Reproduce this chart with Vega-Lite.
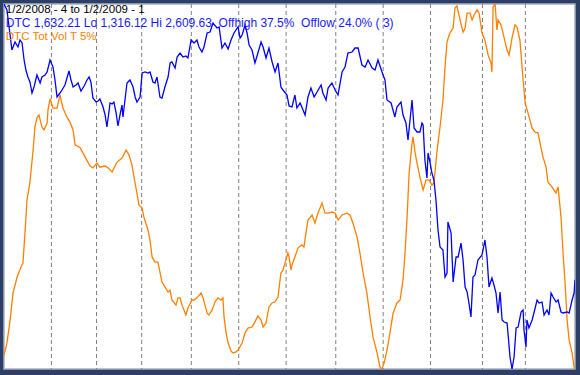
{
  "$schema": "https://vega.github.io/schema/vega-lite/v6.json",
  "width": 571,
  "height": 365,
  "autosize": {"type": "none"},
  "padding": {"left": 4, "top": 4, "right": 5, "bottom": 6},
  "background": "#2d3f66",
  "config": {"view": {"fill": "#ffffff", "stroke": "#a8b0c0", "strokeWidth": 1.5}},
  "datasets": {
    "months": [{"d": 21}, {"d": 41}, {"d": 61}, {"d": 83}, {"d": 104}, {"d": 125}, {"d": 147}, {"d": 168}, {"d": 189}, {"d": 212}, {"d": 231}],
    "labels": [
      {"line": 1, "series": "title", "label": "1/2/2008 - 4 to 1/2/2009 - 1"},
      {"line": 2, "series": "dtc", "label": "DTC 1,632.21 Lo 1,316.12 Hi 2,609.63\u00a0 Offhigh 37.5%\u00a0 Offlow 24.0% ( 3)"},
      {"line": 3, "series": "vol", "label": "DTC Tot Vol T 5%"}
    ],
    "dtc": [
      {"d": 0, "v": 2609.6}, {"d": 1.3, "v": 2588.4}, {"d": 2.7, "v": 2499.8}, {"d": 3.5, "v": 2446.6}, {"d": 4.9, "v": 2475.0}, {"d": 6.2, "v": 2457.3}, {"d": 7.1, "v": 2482.1}, {"d": 8.0, "v": 2471.4}, {"d": 8.9, "v": 2411.2}, {"d": 9.7, "v": 2375.8},
      {"d": 10.6, "v": 2350.9}, {"d": 11.5, "v": 2333.2}, {"d": 12.4, "v": 2294.2}, {"d": 13.3, "v": 2315.5}, {"d": 14.6, "v": 2358.0}, {"d": 16.0, "v": 2329.7}, {"d": 16.8, "v": 2350.9}, {"d": 18.2, "v": 2358.0}, {"d": 19.1, "v": 2368.7}, {"d": 20.4, "v": 2411.2},
      {"d": 21.7, "v": 2386.4}, {"d": 22.6, "v": 2340.3}, {"d": 23.5, "v": 2280.1}, {"d": 24.8, "v": 2294.2}, {"d": 25.7, "v": 2304.9}, {"d": 27.0, "v": 2322.6}, {"d": 27.9, "v": 2347.4}, {"d": 28.8, "v": 2372.2}, {"d": 29.7, "v": 2340.3}, {"d": 30.6, "v": 2315.5},
      {"d": 31.9, "v": 2322.6}, {"d": 32.8, "v": 2329.7}, {"d": 34.1, "v": 2301.3}, {"d": 35.5, "v": 2319.1}, {"d": 36.8, "v": 2340.3}, {"d": 37.7, "v": 2350.9}, {"d": 38.5, "v": 2333.2}, {"d": 39.4, "v": 2276.5}, {"d": 40.8, "v": 2262.3}, {"d": 41.7, "v": 2265.9},
      {"d": 42.5, "v": 2273.0}, {"d": 43.9, "v": 2244.6}, {"d": 44.8, "v": 2216.3}, {"d": 45.6, "v": 2173.7}, {"d": 46.5, "v": 2226.9}, {"d": 47.0, "v": 2258.8}, {"d": 47.9, "v": 2255.3}, {"d": 48.7, "v": 2262.3}, {"d": 49.6, "v": 2226.9}, {"d": 50.5, "v": 2177.3},
      {"d": 51.4, "v": 2216.3}, {"d": 52.3, "v": 2251.7}, {"d": 52.7, "v": 2209.2}, {"d": 53.6, "v": 2269.4}, {"d": 54.5, "v": 2329.7}, {"d": 55.8, "v": 2340.3}, {"d": 57.2, "v": 2315.5}, {"d": 58.1, "v": 2280.1}, {"d": 58.9, "v": 2262.3}, {"d": 60.3, "v": 2280.1},
      {"d": 61.2, "v": 2365.1}, {"d": 62.5, "v": 2368.7}, {"d": 63.8, "v": 2365.1}, {"d": 64.7, "v": 2368.7}, {"d": 66.0, "v": 2333.2}, {"d": 66.9, "v": 2329.7}, {"d": 67.8, "v": 2350.9}, {"d": 69.1, "v": 2280.1}, {"d": 70.0, "v": 2276.5}, {"d": 71.3, "v": 2315.5},
      {"d": 72.7, "v": 2350.9}, {"d": 73.6, "v": 2400.6}, {"d": 74.4, "v": 2404.1}, {"d": 75.8, "v": 2382.8}, {"d": 76.7, "v": 2421.8}, {"d": 78.0, "v": 2436.0}, {"d": 79.3, "v": 2421.8}, {"d": 80.6, "v": 2425.4}, {"d": 81.5, "v": 2418.3}, {"d": 82.9, "v": 2482.1},
      {"d": 84.2, "v": 2471.4}, {"d": 85.5, "v": 2482.1}, {"d": 86.4, "v": 2457.3}, {"d": 87.7, "v": 2439.5}, {"d": 88.6, "v": 2457.3}, {"d": 90.0, "v": 2506.9}, {"d": 91.3, "v": 2510.4}, {"d": 92.6, "v": 2542.3}, {"d": 94.4, "v": 2524.6}, {"d": 95.3, "v": 2528.1},
      {"d": 96.6, "v": 2453.7}, {"d": 97.9, "v": 2471.4}, {"d": 99.3, "v": 2450.2}, {"d": 100.6, "v": 2482.1}, {"d": 101.9, "v": 2506.9}, {"d": 103.7, "v": 2528.1}, {"d": 104.6, "v": 2489.2}, {"d": 105.5, "v": 2499.8}, {"d": 106.8, "v": 2535.2}, {"d": 107.7, "v": 2506.9},
      {"d": 108.6, "v": 2464.4}, {"d": 109.9, "v": 2446.6}, {"d": 111.2, "v": 2400.6}, {"d": 112.5, "v": 2436.0}, {"d": 113.9, "v": 2475.0}, {"d": 114.8, "v": 2457.3}, {"d": 116.1, "v": 2418.3}, {"d": 117.4, "v": 2453.7}, {"d": 118.8, "v": 2404.1}, {"d": 120.1, "v": 2368.7},
      {"d": 121.4, "v": 2400.6}, {"d": 122.7, "v": 2315.5}, {"d": 123.6, "v": 2304.9}, {"d": 125.4, "v": 2287.2}, {"d": 126.3, "v": 2248.2}, {"d": 127.6, "v": 2244.6}, {"d": 128.9, "v": 2287.2}, {"d": 129.8, "v": 2241.1}, {"d": 131.2, "v": 2258.8}, {"d": 132.5, "v": 2234.0},
      {"d": 133.4, "v": 2216.3}, {"d": 134.7, "v": 2280.1}, {"d": 136.0, "v": 2312.0}, {"d": 137.4, "v": 2280.1}, {"d": 138.7, "v": 2297.8}, {"d": 140.5, "v": 2322.6}, {"d": 141.3, "v": 2294.2}, {"d": 142.7, "v": 2269.4}, {"d": 143.6, "v": 2312.0}, {"d": 145.3, "v": 2329.7},
      {"d": 146.7, "v": 2304.9}, {"d": 148.0, "v": 2287.2}, {"d": 149.8, "v": 2368.7}, {"d": 151.1, "v": 2386.4}, {"d": 152.4, "v": 2436.0}, {"d": 154.2, "v": 2439.5}, {"d": 155.5, "v": 2453.7}, {"d": 156.9, "v": 2453.7}, {"d": 158.6, "v": 2393.5}, {"d": 160.0, "v": 2386.4},
      {"d": 161.3, "v": 2411.2}, {"d": 163.1, "v": 2382.8}, {"d": 164.4, "v": 2375.8}, {"d": 165.7, "v": 2411.2}, {"d": 167.5, "v": 2368.7}, {"d": 168.8, "v": 2340.3}, {"d": 169.7, "v": 2269.4}, {"d": 171.5, "v": 2258.8}, {"d": 173.2, "v": 2209.2}, {"d": 174.1, "v": 2244.6},
      {"d": 175.9, "v": 2262.3}, {"d": 176.8, "v": 2216.3}, {"d": 178.1, "v": 2187.9}, {"d": 179.0, "v": 2127.7}, {"d": 179.9, "v": 2198.6}, {"d": 180.8, "v": 2269.4}, {"d": 181.7, "v": 2170.2}, {"d": 183.0, "v": 2156.0}, {"d": 184.3, "v": 2156.0}, {"d": 185.2, "v": 2187.9},
      {"d": 185.7, "v": 2180.8}, {"d": 186.5, "v": 2056.8}, {"d": 187.4, "v": 1993.0}, {"d": 187.9, "v": 2081.6}, {"d": 188.8, "v": 2046.2}, {"d": 189.6, "v": 2010.7}, {"d": 190.5, "v": 1985.9}, {"d": 191.4, "v": 1915.0}, {"d": 192.3, "v": 1808.7}, {"d": 193.2, "v": 1748.5},
      {"d": 194.5, "v": 1737.8}, {"d": 195.4, "v": 1642.1}, {"d": 196.3, "v": 1656.3}, {"d": 196.7, "v": 1837.1}, {"d": 198.1, "v": 1798.1}, {"d": 199.0, "v": 1624.4}, {"d": 200.3, "v": 1713.0}, {"d": 201.2, "v": 1713.0}, {"d": 202.5, "v": 1762.6}, {"d": 203.4, "v": 1702.4},
      {"d": 204.3, "v": 1606.7}, {"d": 205.2, "v": 1589.0}, {"d": 206.0, "v": 1550.0}, {"d": 206.9, "v": 1500.4}, {"d": 207.8, "v": 1642.1}, {"d": 208.7, "v": 1649.2}, {"d": 210.0, "v": 1702.4}, {"d": 211.8, "v": 1720.1}, {"d": 213.1, "v": 1773.3}, {"d": 214.0, "v": 1713.0},
      {"d": 214.9, "v": 1606.7}, {"d": 216.2, "v": 1638.6}, {"d": 217.1, "v": 1613.8}, {"d": 218.0, "v": 1585.4}, {"d": 218.9, "v": 1514.6}, {"d": 219.8, "v": 1589.0}, {"d": 220.7, "v": 1489.8}, {"d": 221.6, "v": 1482.7}, {"d": 222.9, "v": 1479.1}, {"d": 223.3, "v": 1443.7},
      {"d": 224.2, "v": 1358.6}, {"d": 225.1, "v": 1316.1}, {"d": 226.0, "v": 1358.6}, {"d": 226.9, "v": 1461.4}, {"d": 227.8, "v": 1464.9}, {"d": 229.1, "v": 1518.1}, {"d": 230.0, "v": 1525.2}, {"d": 230.4, "v": 1454.3}, {"d": 231.3, "v": 1394.1}, {"d": 231.7, "v": 1489.8},
      {"d": 232.6, "v": 1461.4}, {"d": 234.0, "v": 1489.8}, {"d": 234.8, "v": 1514.6}, {"d": 236.2, "v": 1560.6}, {"d": 237.1, "v": 1550.0}, {"d": 238.4, "v": 1553.5}, {"d": 239.3, "v": 1507.5}, {"d": 240.6, "v": 1525.2}, {"d": 241.5, "v": 1507.5}, {"d": 242.4, "v": 1585.4},
      {"d": 243.3, "v": 1571.3}, {"d": 244.6, "v": 1553.5}, {"d": 245.5, "v": 1560.6}, {"d": 246.8, "v": 1518.1}, {"d": 247.7, "v": 1514.6}, {"d": 249.5, "v": 1518.1}, {"d": 250.4, "v": 1514.6}, {"d": 251.7, "v": 1560.6}, {"d": 252.6, "v": 1585.4}, {"d": 253.0, "v": 1632.2}
    ],
    "vol": [
      {"d": 0, "o": 3.8}, {"d": 1.3, "o": 7.1}, {"d": 2.7, "o": 13.4}, {"d": 4.0, "o": 20.8}, {"d": 5.8, "o": 25.2}, {"d": 7.5, "o": 27.9}, {"d": 8.4, "o": 29.0}, {"d": 9.3, "o": 37.3}, {"d": 10.2, "o": 46.3}, {"d": 11.5, "o": 51.2},
      {"d": 12.9, "o": 60.0}, {"d": 13.7, "o": 66.3}, {"d": 14.6, "o": 68.8}, {"d": 15.5, "o": 69.6}, {"d": 16.8, "o": 66.3}, {"d": 17.7, "o": 65.5}, {"d": 19.1, "o": 67.4}, {"d": 19.5, "o": 71.0}, {"d": 20.4, "o": 74.0}, {"d": 21.7, "o": 71.5},
      {"d": 23.5, "o": 71.5}, {"d": 24.8, "o": 75.1}, {"d": 26.1, "o": 71.5}, {"d": 27.9, "o": 69.0}, {"d": 29.2, "o": 67.7}, {"d": 30.6, "o": 65.5}, {"d": 31.5, "o": 61.4}, {"d": 33.7, "o": 60.6}, {"d": 35.9, "o": 58.1}, {"d": 38.1, "o": 55.6},
      {"d": 39.4, "o": 55.1}, {"d": 41.2, "o": 56.4}, {"d": 42.5, "o": 55.3}, {"d": 44.8, "o": 55.6}, {"d": 46.1, "o": 55.1}, {"d": 47.9, "o": 54.0}, {"d": 50.1, "o": 56.7}, {"d": 52.3, "o": 57.8}, {"d": 54.1, "o": 60.0}, {"d": 55.4, "o": 58.6},
      {"d": 56.7, "o": 55.9}, {"d": 57.6, "o": 52.6}, {"d": 58.9, "o": 48.2}, {"d": 59.8, "o": 44.9}, {"d": 61.2, "o": 44.1}, {"d": 62.0, "o": 41.6}, {"d": 63.8, "o": 38.1}, {"d": 64.7, "o": 35.3}, {"d": 65.6, "o": 30.7}, {"d": 66.9, "o": 29.3},
      {"d": 68.2, "o": 29.3}, {"d": 70.0, "o": 23.8}, {"d": 71.3, "o": 22.5}, {"d": 72.7, "o": 21.1}, {"d": 73.6, "o": 21.6}, {"d": 74.4, "o": 18.9}, {"d": 76.2, "o": 17.5}, {"d": 77.1, "o": 19.5}, {"d": 78.0, "o": 19.5}, {"d": 78.9, "o": 17.5},
      {"d": 80.6, "o": 14.8}, {"d": 81.5, "o": 16.7}, {"d": 83.3, "o": 18.9}, {"d": 84.2, "o": 18.9}, {"d": 85.5, "o": 19.5}, {"d": 87.3, "o": 20.8}, {"d": 88.2, "o": 19.5}, {"d": 90.0, "o": 15.3}, {"d": 90.8, "o": 14.8}, {"d": 92.2, "o": 16.2},
      {"d": 93.5, "o": 18.4}, {"d": 94.8, "o": 19.5}, {"d": 96.2, "o": 18.9}, {"d": 97.0, "o": 19.5}, {"d": 97.5, "o": 14.2}, {"d": 98.4, "o": 9.9}, {"d": 99.3, "o": 7.1}, {"d": 100.6, "o": 4.9}, {"d": 101.5, "o": 4.4}, {"d": 102.8, "o": 4.7},
      {"d": 103.7, "o": 5.2}, {"d": 105.5, "o": 7.1}, {"d": 106.8, "o": 9.9}, {"d": 108.1, "o": 11.2}, {"d": 109.9, "o": 11.5}, {"d": 111.2, "o": 12.9}, {"d": 112.5, "o": 14.5}, {"d": 113.9, "o": 13.4}, {"d": 114.8, "o": 11.5}, {"d": 116.1, "o": 12.6},
      {"d": 117.4, "o": 17.0}, {"d": 118.8, "o": 18.1}, {"d": 120.1, "o": 18.4}, {"d": 121.4, "o": 19.7}, {"d": 122.7, "o": 26.3}, {"d": 123.6, "o": 27.1}, {"d": 124.5, "o": 29.0}, {"d": 125.8, "o": 31.8}, {"d": 126.3, "o": 30.7}, {"d": 127.2, "o": 27.1},
      {"d": 127.6, "o": 28.5}, {"d": 128.9, "o": 30.7}, {"d": 130.3, "o": 33.2}, {"d": 132.0, "o": 34.0}, {"d": 132.9, "o": 33.4}, {"d": 133.8, "o": 37.3}, {"d": 134.7, "o": 40.8}, {"d": 136.5, "o": 42.2}, {"d": 137.8, "o": 40.0}, {"d": 139.1, "o": 42.7},
      {"d": 140.9, "o": 45.5}, {"d": 142.2, "o": 42.7}, {"d": 143.6, "o": 42.7}, {"d": 145.3, "o": 43.0}, {"d": 146.7, "o": 42.7}, {"d": 148.0, "o": 40.8}, {"d": 149.8, "o": 42.2}, {"d": 152.0, "o": 42.7}, {"d": 153.3, "o": 42.2}, {"d": 154.6, "o": 40.0},
      {"d": 156.4, "o": 36.2}, {"d": 157.7, "o": 31.8}, {"d": 159.1, "o": 26.3}, {"d": 160.8, "o": 20.8}, {"d": 162.2, "o": 14.2}, {"d": 163.5, "o": 8.8}, {"d": 165.3, "o": 4.4}, {"d": 166.6, "o": 0.5}, {"d": 167.5, "o": 0.0}, {"d": 168.4, "o": 1.6},
      {"d": 169.7, "o": 5.2}, {"d": 171.0, "o": 9.9}, {"d": 172.4, "o": 15.3}, {"d": 174.1, "o": 18.1}, {"d": 175.5, "o": 18.9}, {"d": 176.8, "o": 24.4}, {"d": 177.7, "o": 31.8}, {"d": 178.6, "o": 41.6}, {"d": 179.5, "o": 53.7}, {"d": 180.8, "o": 61.9},
      {"d": 181.2, "o": 63.6}, {"d": 182.1, "o": 59.5}, {"d": 183.0, "o": 56.4}, {"d": 184.3, "o": 52.6}, {"d": 185.7, "o": 49.0}, {"d": 187.0, "o": 51.8}, {"d": 188.3, "o": 51.8}, {"d": 189.6, "o": 50.4}, {"d": 190.5, "o": 51.0}, {"d": 191.9, "o": 60.0},
      {"d": 193.2, "o": 66.3}, {"d": 194.5, "o": 73.7}, {"d": 195.4, "o": 82.7}, {"d": 196.3, "o": 89.6}, {"d": 197.6, "o": 92.1}, {"d": 199.0, "o": 93.4}, {"d": 199.8, "o": 98.9}, {"d": 200.7, "o": 99.5}, {"d": 202.1, "o": 95.6}, {"d": 203.4, "o": 92.3},
      {"d": 204.3, "o": 93.4}, {"d": 205.2, "o": 97.5}, {"d": 206.5, "o": 97.5}, {"d": 207.4, "o": 95.6}, {"d": 208.3, "o": 97.0}, {"d": 209.6, "o": 98.4}, {"d": 210.5, "o": 97.5}, {"d": 211.8, "o": 92.1}, {"d": 213.1, "o": 90.1}, {"d": 214.5, "o": 86.0},
      {"d": 215.8, "o": 83.8}, {"d": 216.2, "o": 81.4}, {"d": 216.7, "o": 99.2}, {"d": 217.6, "o": 100.0}, {"d": 218.4, "o": 92.9}, {"d": 218.9, "o": 95.6}, {"d": 220.2, "o": 94.3}, {"d": 221.1, "o": 92.1}, {"d": 222.0, "o": 89.6}, {"d": 222.9, "o": 87.4},
      {"d": 223.8, "o": 86.0}, {"d": 225.1, "o": 90.7}, {"d": 226.4, "o": 94.3}, {"d": 227.3, "o": 93.7}, {"d": 228.6, "o": 90.1}, {"d": 230.0, "o": 79.2}, {"d": 230.9, "o": 72.9}, {"d": 232.2, "o": 70.1}, {"d": 234.0, "o": 66.0}, {"d": 235.3, "o": 64.9},
      {"d": 236.6, "o": 64.7}, {"d": 237.9, "o": 60.8}, {"d": 238.8, "o": 58.1}, {"d": 240.2, "o": 55.3}, {"d": 241.0, "o": 51.2}, {"d": 242.8, "o": 49.9}, {"d": 243.7, "o": 49.0}, {"d": 244.6, "o": 48.2}, {"d": 245.5, "o": 49.9}, {"d": 246.8, "o": 41.6},
      {"d": 247.7, "o": 31.8}, {"d": 248.6, "o": 23.6}, {"d": 249.5, "o": 13.4}, {"d": 250.4, "o": 7.9}, {"d": 251.7, "o": 4.4}, {"d": 252.6, "o": 0.5}, {"d": 253.0, "o": 0.0}
    ]
  },
  "resolve": {"scale": {"y": "independent", "color": "independent"}},
  "layer": [
    {
      "data": {"name": "months"},
      "mark": {"type": "rule", "color": "#808080", "strokeDash": [4, 3], "strokeWidth": 1},
      "encoding": {
        "x": {"field": "d", "type": "quantitative", "scale": {"domain": [0, 253], "nice": false, "zero": false}, "axis": null}
      }
    },
    {
      "data": {"name": "vol"},
      "mark": {"type": "line", "color": "#ff8000", "strokeWidth": 1.3, "clip": true},
      "encoding": {
        "x": {"field": "d", "type": "quantitative", "scale": {"domain": [0, 253], "nice": false, "zero": false}, "axis": null},
        "y": {"field": "o", "type": "quantitative", "scale": {"domain": [0, 100], "nice": false, "zero": false}, "axis": null}
      }
    },
    {
      "data": {"name": "dtc"},
      "mark": {"type": "line", "color": "#0000ff", "strokeWidth": 1.3, "clip": true},
      "encoding": {
        "x": {"field": "d", "type": "quantitative", "scale": {"domain": [0, 253], "nice": false, "zero": false}, "axis": null},
        "y": {"field": "v", "type": "quantitative", "scale": {"domain": [1316.12, 2609.63], "nice": false, "zero": false}, "axis": null}
      }
    },
    {
      "data": {"name": "labels"},
      "transform": [{"filter": "datum.line != 2"}],
      "mark": {"type": "text", "align": "left", "baseline": "middle", "font": "Liberation Sans", "fontSize": 11.5},
      "encoding": {
        "x": {"datum": 0.8, "type": "quantitative", "scale": {"domain": [0, 253], "nice": false, "zero": false}, "axis": null},
        "y": {"field": "line", "type": "quantitative", "scale": {"domain": [0.56, 27.6], "reverse": true, "nice": false, "zero": false}, "axis": null},
        "text": {"field": "label"},
        "color": {"field": "series", "type": "nominal", "scale": {"domain": ["title", "dtc", "vol"], "range": ["#000000", "#1a1aff", "#ff8000"]}, "legend": null}
      }
    },
    {
      "data": {"name": "labels"},
      "transform": [{"filter": "datum.line == 2"}],
      "mark": {"type": "text", "align": "left", "baseline": "middle", "font": "Liberation Sans", "fontSize": 12},
      "encoding": {
        "x": {"datum": 0.8, "type": "quantitative", "scale": {"domain": [0, 253], "nice": false, "zero": false}, "axis": null},
        "y": {"field": "line", "type": "quantitative", "scale": {"domain": [0.56, 27.6], "reverse": true, "nice": false, "zero": false}, "axis": null},
        "text": {"field": "label"},
        "color": {"field": "series", "type": "nominal", "scale": {"domain": ["title", "dtc", "vol"], "range": ["#000000", "#1a1aff", "#ff8000"]}, "legend": null}
      }
    }
  ]
}
